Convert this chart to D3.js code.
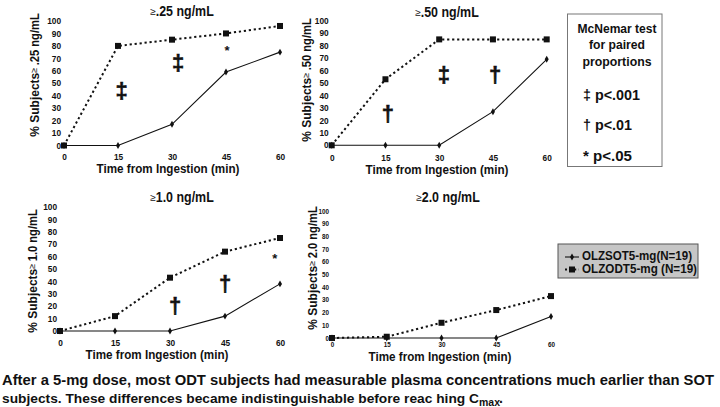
<!DOCTYPE html>
<html><head><meta charset="utf-8">
<script src="https://cdn.jsdelivr.net/npm/d3@7"></script>
<style>
html,body{margin:0;padding:0;background:#fff;}
svg{display:block;font-family:"Liberation Sans",Arial,Helvetica,sans-serif;}
</style></head>
<body>
<svg id="chart" width="720" height="407"></svg>
<script>
// ---- data ----
const times = [0, 15, 30, 45, 60];
const yTicks = [0, 10, 20, 30, 40, 50, 60, 70, 80, 90, 100];
const thresholds = [".25", ".50", "1.0", "2.0"];
const sot25 = [0, 0, 17, 59, 75];
const odt25 = [0, 80, 85, 90, 96];
const sot50 = [0, 0, 0, 27, 69];
const odt50 = [0, 53, 85, 85, 85];
const sot10 = [0, 0, 0, 12, 38];
const odt10 = [0, 12, 43, 64, 75];
const sot20 = [0, 0, 0, 0, 17];
const odt20 = [0, 1, 12, 22, 33];
// significance marks: [symbol, time, percent]
const marks25 = [["‡", 16, 43], ["‡", 31.7, 65], ["*", 45.3, 78]];
const marks50 = [["†", 15.7, 24], ["‡", 31.3, 55.5], ["†", 45.6, 55.5]];
const marks10 = [["†", 31.4, 19.5], ["†", 45, 37], ["*", 58.6, 60]];
const marks20 = [];
const seriesNames = ["OLZSOT5-mg(N=19)", "OLZODT5-mg (N=19)"];
const legendItems = [["‡", "p<.001"], ["†", "p<.01"], ["*", "p<.05"]];
const boxTitle = ["McNemar test", "for paired", "proportions"];
const caption1 = "After a 5-mg dose, most ODT subjects had measurable plasma concentrations much earlier than SOT";
const caption2 = "subjects. These differences became indistinguishable before reac hing C";

// ---- layout ----
const panels = [
  {th: thresholds[0], sot: sot25, odt: odt25, marks: marks25,
   x: [64, 280], y: [145.5, 21], titleX: 182, titleY: 12, ylabX: 35, ylabY: 75,
   xtY: 158, xlabX: 168, xlabY: 170, tickFs: 8.3},
  {th: thresholds[1], sot: sot50, odt: odt50, marks: marks50,
   x: [331.7, 546.7], y: [145.3, 20.7], titleX: 447, titleY: 13, ylabX: 307, ylabY: 80,
   xtY: 159, xlabX: 437, xlabY: 171, tickFs: 8.3},
  {th: thresholds[2], sot: sot10, odt: odt10, marks: marks10,
   x: [60, 280], y: [331, 207], titleX: 182, titleY: 198, ylabX: 33, ylabY: 271,
   xtY: 344, xlabX: 157, xlabY: 356, tickFs: 8.3},
  {th: thresholds[3], sot: sot20, odt: odt20, marks: marks20,
   x: [332, 551], y: [338, 211], titleX: 448, titleY: 198, ylabX: 313, ylabY: 268,
   xtY: 347, xlabX: 440, xlabY: 358, tickFs: 6.3}
];

const svg = d3.select("#chart");
const INK = "#111";

panels.forEach(p => {
  const xs = d3.scaleLinear().domain([0, 60]).range(p.x);
  const ys = d3.scaleLinear().domain([0, 100]).range(p.y);
  const g = svg.append("g");

  const ya = g.append("g").attr("transform", `translate(${p.x[0]},0)`)
    .call(d3.axisLeft(ys).tickValues(yTicks).tickSize(0).tickPadding(3).tickFormat(d3.format("d")));
  ya.select(".domain").remove();
  ya.selectAll("text").attr("font-size", p.tickFs).attr("font-weight", "bold")
    .attr("font-family", "'Liberation Sans',Arial,sans-serif").attr("fill", INK);

  const xa = g.append("g").attr("transform", `translate(0,${p.xtY - 4})`)
    .call(d3.axisBottom(xs).tickValues(times).tickSize(0).tickPadding(0));
  xa.select(".domain").remove();
  xa.selectAll("text").attr("font-size", p.tickFs).attr("font-weight", "bold")
    .attr("font-family", "'Liberation Sans',Arial,sans-serif").attr("fill", INK);

  // title
  const t = g.append("text").attr("x", p.titleX).attr("y", p.titleY).attr("text-anchor", "middle")
    .attr("dominant-baseline", "middle").attr("fill", INK);
  t.append("tspan").attr("font-size", 10).text("≥");
  t.append("tspan").attr("font-size", 14.5).attr("font-weight", "bold").attr("textLength", 58)
    .attr("lengthAdjust", "spacingAndGlyphs").text(p.th + " ng/mL");

  // y label
  const yl = g.append("text").attr("transform", `translate(${p.ylabX},${p.ylabY}) rotate(-90)`)
    .attr("text-anchor", "middle").attr("dominant-baseline", "middle").attr("fill", INK);
  yl.append("tspan").attr("font-size", 13.5).attr("font-weight", "bold").attr("textLength", 64)
    .attr("lengthAdjust", "spacingAndGlyphs").text("% Subjects");
  yl.append("tspan").attr("font-size", 9).text("≥ ");
  yl.append("tspan").attr("font-size", 13.5).attr("font-weight", "bold").attr("textLength", 52)
    .attr("lengthAdjust", "spacingAndGlyphs").text(p.th + " ng/mL");

  // x label
  g.append("text").attr("x", p.xlabX).attr("y", p.xlabY).attr("text-anchor", "middle")
    .attr("dominant-baseline", "middle").attr("font-size", 13).attr("font-weight", "bold")
    .attr("textLength", 143).attr("lengthAdjust", "spacingAndGlyphs")
    .attr("fill", INK).text("Time from Ingestion (min)");

  const line = d3.line().x((d, i) => xs(times[i])).y(d => ys(d));
  g.append("path").datum(p.odt).attr("d", line).attr("fill", "none").attr("stroke", INK)
    .attr("stroke-width", 2).attr("stroke-dasharray", "2.2,2.8");
  g.append("path").datum(p.sot).attr("d", line).attr("fill", "none").attr("stroke", INK)
    .attr("stroke-width", 1.1);
  g.selectAll(".sq").data(p.odt).enter().append("rect")
    .attr("x", (d, i) => xs(times[i]) - 3).attr("y", d => ys(d) - 3)
    .attr("width", 6).attr("height", 6).attr("fill", INK);
  g.selectAll(".dm").data(p.sot).enter().append("path")
    .attr("d", d3.symbol().type(d3.symbolDiamond).size(14))
    .attr("transform", (d, i) => `translate(${xs(times[i])},${ys(d)})`).attr("fill", INK);

  g.selectAll(".mk").data(p.marks).enter().append("text")
    .attr("x", d => xs(d[1])).attr("y", d => ys(d[2])).attr("text-anchor", "middle")
    .attr("dominant-baseline", "middle")
    .attr("font-size", d => d[0] === "*" ? 13 : 22).attr("font-weight", "bold")
    .attr("dy", d => d[0] === "*" ? 3 : 0)
    .attr("stroke", INK).attr("stroke-width", d => d[0] === "*" ? 0 : 0.6)
    .attr("fill", INK).text(d => d[0]);
});

// McNemar box
const bx = svg.append("g");
bx.append("rect").attr("x", 567.5).attr("y", 14).attr("width", 94.5).attr("height", 152.5)
  .attr("fill", "#fff").attr("stroke", "#777").attr("stroke-width", 1);
const boxW = [79, 56, 69];
bx.selectAll(".bt").data(boxTitle).enter().append("text")
  .attr("x", 617).attr("y", (d, i) => 29 + i * 16.5).attr("text-anchor", "middle")
  .attr("dominant-baseline", "middle").attr("font-size", 13.5).attr("font-weight", "bold")
  .attr("textLength", (d, i) => boxW[i]).attr("lengthAdjust", "spacingAndGlyphs")
  .attr("fill", INK).text(d => d);
const itemW = [57, 49, 49];
bx.selectAll(".bl").data(legendItems).enter().append("text")
  .attr("x", 583).attr("y", (d, i) => 96 + i * 30.5).attr("dominant-baseline", "middle")
  .attr("font-size", 15).attr("font-weight", "bold").attr("fill", INK)
  .attr("textLength", (d, i) => itemW[i]).attr("lengthAdjust", "spacingAndGlyphs")
  .text(d => d[0] + " " + d[1]);

// series legend
const lg = svg.append("g");
lg.append("rect").attr("x", 558).attr("y", 244).attr("width", 140).attr("height", 34)
  .attr("fill", "#c6c6c6").attr("stroke", "#555").attr("stroke-width", 1);
const legW = [110, 115];
seriesNames.forEach((name, i) => {
  const yy = 257 + i * 12.5;
  lg.append("line").attr("x1", 565).attr("x2", 579).attr("y1", yy).attr("y2", yy)
    .attr("stroke", INK).attr("stroke-width", i === 0 ? 1.1 : 2)
    .attr("stroke-dasharray", i === 0 ? null : "2,2.6");
  if (i === 0) {
    lg.append("path").attr("d", d3.symbol().type(d3.symbolDiamond).size(14))
      .attr("transform", `translate(572,${yy})`).attr("fill", INK);
  } else {
    lg.append("rect").attr("x", 569).attr("y", yy - 3).attr("width", 6).attr("height", 6).attr("fill", INK);
  }
  lg.append("text").attr("x", 582).attr("y", yy).attr("dominant-baseline", "middle")
    .attr("font-size", 12).attr("font-weight", "bold").attr("fill", INK)
    .attr("textLength", legW[i]).attr("lengthAdjust", "spacingAndGlyphs").text(name);
});

// caption
svg.append("text").attr("x", 2).attr("y", 385).attr("font-size", 14.7).attr("font-weight", "bold")
  .attr("textLength", 712).attr("lengthAdjust", "spacingAndGlyphs")
  .attr("fill", INK).text(caption1);
svg.append("text").attr("x", 2).attr("y", 403).attr("font-weight", "bold").attr("font-size", 13.5)
  .attr("textLength", 477).attr("lengthAdjust", "spacingAndGlyphs")
  .attr("fill", INK).text(caption2);
svg.append("text").attr("x", 479).attr("y", 406).attr("font-weight", "bold").attr("font-size", 10.5)
  .attr("fill", INK).text("max");
svg.append("text").attr("x", 499).attr("y", 403).attr("font-weight", "bold").attr("font-size", 14)
  .attr("fill", INK).text(".");
</script>
</body></html>
